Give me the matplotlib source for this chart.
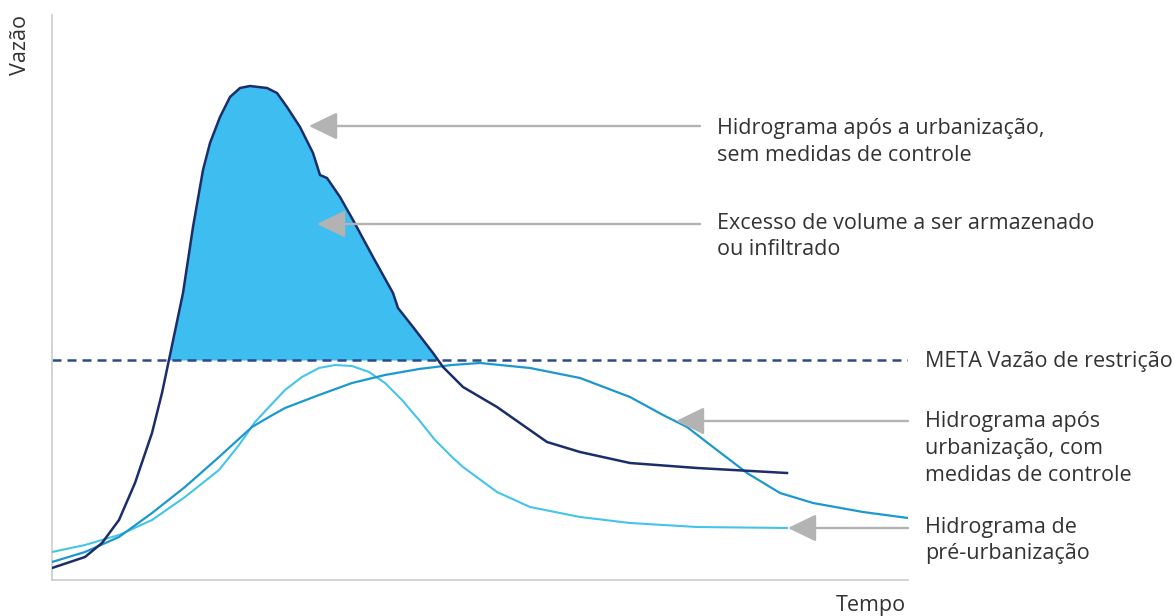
import numpy as np
import matplotlib
matplotlib.use("Agg")
import matplotlib.pyplot as plt

# hydrograph values (arbitrary units: time 0-856, flow 0-565)
t_sem = [0, 33, 50, 67, 83, 100, 110, 118, 131, 141, 151, 158, 168, 178, 188, 198,
         215, 225, 235, 248, 261, 268, 275, 288, 301, 321, 341, 346, 361, 381, 391,
         411, 445, 495, 528, 578, 645, 735]
q_sem = [12, 23, 37, 60, 97, 147, 187, 225, 287, 353, 410, 437, 463, 483, 492, 494,
         492, 487, 473, 453, 427, 405, 402, 383, 360, 323, 287, 272, 253, 227, 213,
         193, 173, 138, 128, 117, 112, 107]

t_com = [0, 33, 67, 100, 133, 167, 200, 217, 233, 267, 300, 333, 367, 400, 428, 478,
         528, 578, 611, 635, 661, 695, 728, 761, 811, 856]
q_com = [18, 28, 43, 67, 93, 123, 153, 163, 172, 185, 197, 205, 211, 215, 217, 212,
         202, 183, 165, 153, 133, 107, 87, 77, 68, 62]

t_pre = [0, 33, 67, 100, 133, 167, 187, 203, 217, 233, 250, 267, 283, 300, 317, 333,
         350, 367, 383, 400, 411, 445, 478, 528, 578, 645, 735]
q_pre = [28, 35, 45, 60, 83, 110, 135, 158, 173, 190, 203, 212, 215, 214, 208, 197,
         180, 160, 140, 123, 113, 88, 73, 63, 57, 53, 52]

q_meta = 220

fig = plt.figure(figsize=(11.74, 6.16), dpi=100)
ax = fig.add_axes([52 / 1174, 36 / 616, 856 / 1174, 565 / 616])
ax.set_xlim(0, 856)
ax.set_ylim(0, 565)

navy = "#1b2d6b"
mid = "#1c98d0"
light = "#45c4ea"
fill = "#3dbdf0"
gray = "#b3b3b3"
txt = "#333333"

t_arr = np.array(t_sem)
q_arr = np.array(q_sem)
ax.fill_between(t_arr, q_arr, q_meta, where=q_arr >= q_meta, interpolate=True,
                color=fill, lw=0, zorder=1)
ax.axhline(q_meta, color="#2c4a8a", lw=1.8, dashes=(3.6, 2.4), zorder=2)

ax.plot(t_pre, q_pre, color=light, lw=1.5, zorder=3, solid_joinstyle="round")
ax.plot(t_com, q_com, color=mid, lw=1.6, zorder=3, solid_joinstyle="round")
ax.plot(t_sem, q_sem, color=navy, lw=1.8, zorder=4, solid_joinstyle="round")

# gray pointer arrows: (tip, tail)
arrows = [((257, 454), (648, 454)),
          ((265, 356), (648, 356)),
          ((624, 159), (856, 159)),
          ((736, 52), (856, 52))]
for tip, tail in arrows:
    ax.annotate("", xy=tip, xytext=tail,
                arrowprops=dict(arrowstyle="-|>,head_length=1.75,head_width=0.85",
                                mutation_scale=10, color=gray, lw=1.7,
                                shrinkA=0, shrinkB=0),
                annotation_clip=False, zorder=5)

fs = 15.5
font = "Open Sans"
labels = [(665, [(446, "Hidrograma após a urbanização,"), (419, "sem medidas de controle")]),
          (665, [(351, "Excesso de volume a ser armazenado"), (325, "ou infiltrado")]),
          (873, [(213, "META Vazão de restrição")]),
          (873, [(153, "Hidrograma após"), (126, "urbanização, com"),
                 (99, "medidas de controle")]),
          (873, [(47, "Hidrograma de"), (21, "pré-urbanização")])]
for x, lines in labels:
    for y, s in lines:
        ax.text(x, y, s, fontsize=fs, family=font, color=txt, va="baseline",
                ha="left", clip_on=False)

ax.text(854, -31, "Tempo", fontsize=fs, family=font, color=txt, va="baseline",
        ha="right", clip_on=False)
ax.text(-31, 535, "Vazão", fontsize=fs, family=font, color=txt, va="center",
        ha="center", rotation=90, clip_on=False)

for side in ["top", "right"]:
    ax.spines[side].set_visible(False)
for side in ["left", "bottom"]:
    ax.spines[side].set_color("#cccccc")
    ax.spines[side].set_linewidth(1.2)
ax.set_xticks([])
ax.set_yticks([])

fig.savefig("out.png", dpi=100)
